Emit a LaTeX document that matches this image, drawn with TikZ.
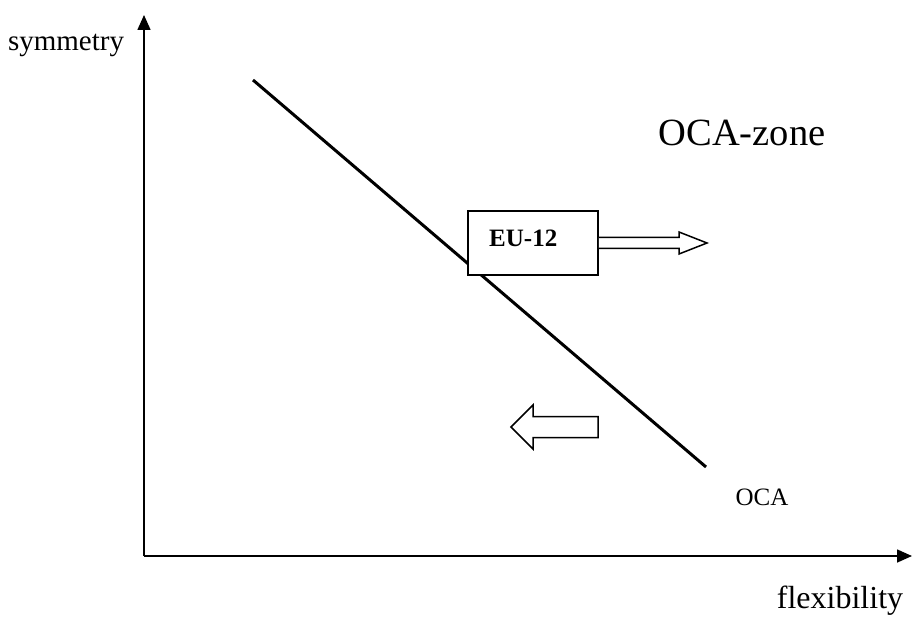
\documentclass[tikz,border=0pt]{standalone}
\usepackage{fontspec}
\setmainfont{Liberation Serif}
\usetikzlibrary{arrows.meta,calc}
\begin{document}
\begin{tikzpicture}[x=1pt,y=-1pt,
  axis/.style={line width=1.6pt,-{Triangle[length=15pt,width=13pt]}},
  lbl/.style={font=\fontsize{25}{28}\selectfont,inner sep=0pt},
  fatarrow/.style={line width=1.5pt,fill=white,line join=miter}]
\useasboundingbox (0,0) rectangle (912,617);
\coordinate (o) at (144,556);
\coordinate (ytip) at (144,15);
\coordinate (xtip) at (912,556);
\draw[axis] (o) -- (ytip);
\draw[axis] (o) -- (xtip);
\node[lbl,font=\fontsize{29}{32}\selectfont] (sym) at (66,45) {symmetry};
\node[lbl,font=\fontsize{32}{34}\selectfont] (flex) at (840,601) {flexibility};
\node[lbl,font=\fontsize{38.5}{42}\selectfont] (zone) at (742,133) {OCA-zone};
\coordinate (la) at (253,80);
\coordinate (lb) at (706,467);
\draw[line width=3pt] (la) -- (lb);
\node[lbl] (oca) at (762,497) {OCA};
\node[draw,line width=1.6pt,fill=white,minimum width=130pt,minimum height=64pt,inner sep=0pt] (eu) at (533,243) {};
\node[font=\fontsize{25}{28}\selectfont\bfseries,inner sep=0pt,anchor=west] (eut) at (489,238) {EU-12};
% right arrow
\draw[fatarrow] (eu.east |- 0,237.5) -- (679,237.5) -- (679,232) -- (707,243) -- (679,254) -- (679,248.5) -- (eu.east |- 0,248.5);
% left arrow
\coordinate (lt) at (511,427);
\draw[fatarrow] (lt) -- (533,405) -- (533,416.5) -- (598,416.5) -- (598,437.5) -- (533,437.5) -- (533,449) -- cycle;
\end{tikzpicture}
\end{document}
